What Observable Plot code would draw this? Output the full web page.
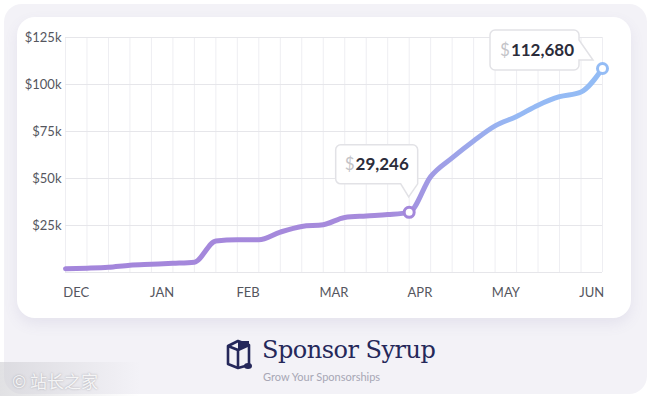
<!DOCTYPE html>
<html>
<head>
<meta charset="utf-8">
<script src="https://cdn.jsdelivr.net/npm/d3@7"></script>
<script src="https://cdn.jsdelivr.net/npm/@observablehq/plot@0.6"></script>
<style>
  html, body { margin: 0; padding: 0; background: #ffffff; }
  body { width: 650px; height: 396px; position: relative; overflow: hidden; font-family: Lato, "Open Sans", sans-serif; }
  #outer { position: absolute; left: 4px; top: 4px; width: 643px; height: 390px; background: #f3f2f7; border-radius: 18px; }
  #card { position: absolute; left: 17px; top: 17px; width: 614px; height: 301px; background: #ffffff; border-radius: 18px;
          box-shadow: 0 6px 14px rgba(110, 100, 160, 0.10); }
  #card svg { display: block; }
  #brand { position: absolute; left: 224px; top: 336px; }
  #logo { position: absolute; left: 0; top: 2px; }
  #title { position: absolute; left: 38px; top: 0px; font-family: "DejaVu Serif", serif; font-size: 24px; color: #25285a; white-space: nowrap; letter-spacing: -0.5px; }
  #subtitle { position: absolute; left: 39px; top: 34px; font-family: Lato, sans-serif; font-size: 11px; color: #a7a7b5; white-space: nowrap; }
  #wm { position: absolute; left: 0; top: 362px; width: 140px; height: 34px;
        background: linear-gradient(90deg, rgba(200,200,205,0.55), rgba(225,225,230,0.0)); }
  #wmtext { position: absolute; left: 12px; top: 368px; font-size: 17px; color: rgba(255,255,255,0.85);
            text-shadow: 0 0 2px rgba(120,120,130,0.6); font-family: "Noto Sans CJK SC", sans-serif; }
</style>
</head>
<body>
<div id="outer"></div>
<div id="card"></div>
<div id="brand">
  <svg id="logo" width="30" height="32" viewBox="0 0 30 32">
    <path d="M4 8 L14 3 L25 7 L25 27 L14 30 L4 26 Z" fill="none" stroke="#25285a" stroke-width="2.6" stroke-linejoin="round"/>
    <path d="M4 8 L14 12 L25 7" fill="none" stroke="#25285a" stroke-width="2.6" stroke-linejoin="round"/>
    <path d="M14 3 L14 12 L25 7 L25 3 Z" fill="#25285a"/>
    <path d="M14 12 L14 30" stroke="#25285a" stroke-width="2.6"/>
    <ellipse cx="24" cy="28" rx="4" ry="3" fill="#25285a"/>
  </svg>
  <div id="title">Sponsor Syrup</div>
  <div id="subtitle">Grow Your Sponsorships</div>
</div>
<div id="wm"></div>
<div id="wmtext">© 站长之家</div>
<script>
// ---- data ----
const weekIndex = [0,1,2,3,4,5,6,7,8,9,10,11,12,13,14,15,16,17,18,19,20,21,22,23,24,25];
const revenue = [2000, 2300, 2800, 3900, 4400, 4900, 5500, 16800, 17400, 17400, 21500, 24500, 25400,
                 29300, 30100, 30800, 32000, 51000, 61000, 70000, 78000, 83000, 89000, 93500, 96000, 108500];
const monthLabels = ["DEC", "JAN", "FEB", "MAR", "APR", "MAY", "JUN"];
const monthTickPos = [0.5, 4.5, 8.5, 12.5, 16.5, 20.5, 24.5];
const yTickValues = [25000, 50000, 75000, 100000, 125000];
const yGridValues = [0, 25000, 50000, 75000, 100000, 125000];
const calloutIndex = [16, 25];
const calloutText = ["29,246", "112,680"];
const calloutColor = ["#a488db", "#94bcf5"];

const series = weekIndex.map((i, k) => ({i, v: revenue[k]}));
const callouts = calloutIndex.map((i, k) => ({i, v: revenue[i], label: calloutText[k], color: calloutColor[k], kind: k}));

const plot = Plot.plot({
  width: 614,
  height: 301,
  marginLeft: 48,
  marginRight: 29,
  marginTop: 20,
  marginBottom: 46,
  style: {fontFamily: "Lato, sans-serif", fontSize: "13px", color: "#55565e", background: "transparent", overflow: "visible"},
  x: {domain: [0, 25], axis: null},
  y: {domain: [0, 125000], axis: null},
  marks: [
    Plot.gridX(d3.range(0, 26), {stroke: "#eeeef2", strokeOpacity: 1, strokeWidth: 1}),
    Plot.gridY(yGridValues, {stroke: "#e6e6ea", strokeOpacity: 1, strokeWidth: 1}),
    Plot.axisY(yTickValues, {label: null, tickSize: 0, tickPadding: 4, tickFormat: d => "$" + d / 1000 + "k", fontSize: 13, fill: "#55565e"}),
    Plot.axisX(monthTickPos, {label: null, tickSize: 0, tickPadding: 15, tickFormat: (d, k) => monthLabels[k], fontSize: 13, fill: "#55565e"}),
    Plot.line(series, {x: "i", y: "v", curve: "monotone-x", stroke: "url(#lineGrad)", strokeWidth: 5, strokeLinecap: "round"}),
    Plot.dot(callouts, {x: "i", y: "v", r: 5, fill: "white", stroke: "color", strokeWidth: 3})
  ]
});

document.getElementById("card").appendChild(plot);

const sx = plot.scale("x"), sy = plot.scale("y");
const svg = d3.select(plot);
const defs = svg.insert("defs", ":first-child");
const grad = defs.append("linearGradient").attr("id", "lineGrad")
  .attr("gradientUnits", "userSpaceOnUse")
  .attr("x1", sx.apply(0)).attr("x2", sx.apply(25)).attr("y1", 0).attr("y2", 0);
[[0, "#a385db"], [0.6, "#a68bdc"], [0.84, "#96b9f4"], [1, "#93bcf5"]].forEach(([o, c]) =>
  grad.append("stop").attr("offset", o).attr("stop-color", c));

// callout bubbles
const layer = svg.append("g").attr("text-anchor", "start");
callouts.forEach(c => {
  const px = sx.apply(c.i), py = sy.apply(c.v);
  let d, tx, ty;
  if (c.kind === 0) {
    const L = px - 73, T = py - 67, R = px + 9, B = py - 28, r = 5;
    d = `M${L + r},${T} H${R - r} A${r},${r} 0 0 1 ${R},${T + r} V${B} L${px},${py - 15} L${px - 8},${B} H${L + r} A${r},${r} 0 0 1 ${L},${B - r} V${T + r} A${r},${r} 0 0 1 ${L + r},${T} Z`;
    tx = L + 9; ty = (T + B) / 2;
  } else {
    const L = px - 112, T = py - 38, R = px - 23, B = py + 2, r = 5;
    d = `M${L + r},${T} H${R - r} A${r},${r} 0 0 1 ${R},${T + r} V${T + 10} L${px - 9},${py - 8} L${R},${py - 8} V${B - r} A${r},${r} 0 0 1 ${R - r},${B} H${L + r} A${r},${r} 0 0 1 ${L},${B - r} V${T + r} A${r},${r} 0 0 1 ${L + r},${T} Z`;
    tx = L + 10; ty = (T + B) / 2;
  }
  layer.append("path").attr("d", d).attr("fill", "white").attr("stroke", "#e2e2e6").attr("stroke-width", 1.5);
  const t = layer.append("text").attr("x", tx).attr("y", ty).attr("dy", "0.35em").attr("text-anchor", "start")
    .attr("font-family", "Lato, sans-serif").attr("font-size", 17);
  t.append("tspan").attr("fill", "#c4c4c8").text("$");
  t.append("tspan").attr("fill", "#2b2c3a").attr("font-weight", 700).attr("dx", 1).text(c.label);
});
</script>
</body>
</html>
